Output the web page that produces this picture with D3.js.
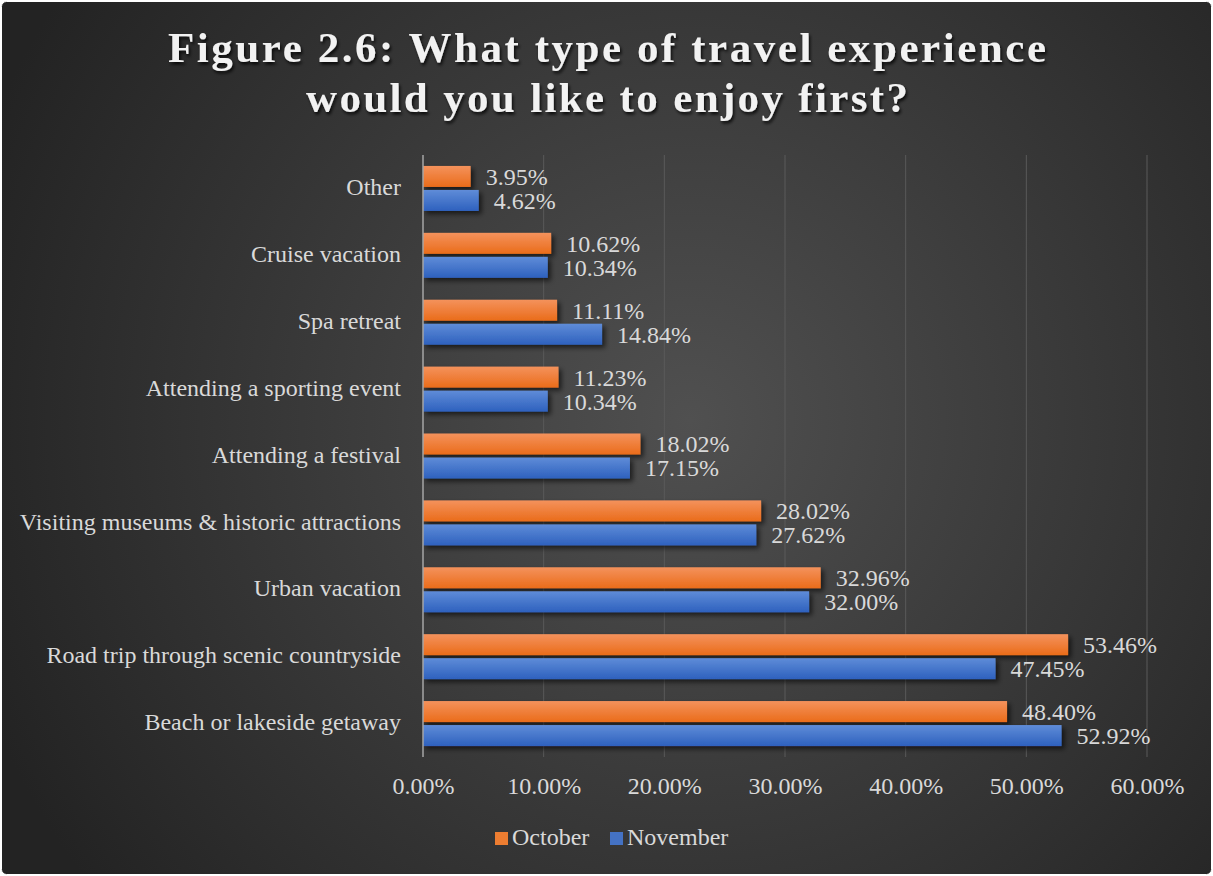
<!DOCTYPE html>
<html><head><meta charset="utf-8">
<script src="https://cdn.jsdelivr.net/npm/d3@7"></script>
<style>html,body{margin:0;padding:0;background:#fff;}svg{display:block;}</style>
</head><body>
<script>
const categories = ["Other","Cruise vacation","Spa retreat ","Attending a sporting event","Attending a festival","Visiting museums & historic attractions","Urban vacation","Road trip through scenic countryside","Beach or lakeside getaway"];
const october = [3.95,10.62,11.11,11.23,18.02,28.02,32.96,53.46,48.40];
const november = [4.62,10.34,14.84,10.34,17.15,27.62,32.00,47.45,52.92];
const seriesNames = ["October","November"];
const tickValues = [0,10,20,30,40,50,60];
const titleLines = ["Figure 2.6: What type of travel experience","would you like to enjoy first?"];

const W=1213,H=876;
const svg=d3.select("body").append("svg").attr("width",W).attr("height",H);
const defs=svg.append("defs");
const bg=defs.append("radialGradient").attr("id","bg").attr("gradientUnits","userSpaceOnUse")
  .attr("cx",690).attr("cy",420).attr("r",760);
bg.append("stop").attr("offset","0").attr("stop-color","#505050");
bg.append("stop").attr("offset","1").attr("stop-color","#232323");
const og=defs.append("linearGradient").attr("id","og").attr("x1",0).attr("y1",0).attr("x2",0).attr("y2",1);
og.append("stop").attr("offset","0").attr("stop-color","#f4925c");
og.append("stop").attr("offset","1").attr("stop-color","#ea6c1a");
const blg=defs.append("linearGradient").attr("id","blg").attr("x1",0).attr("y1",0).attr("x2",0).attr("y2",1);
blg.append("stop").attr("offset","0").attr("stop-color","#5f8cd8");
blg.append("stop").attr("offset","1").attr("stop-color","#2e61be");
const sh=defs.append("filter").attr("id","sh").attr("x","-10%").attr("y","-50%").attr("width","130%").attr("height","250%");
sh.append("feDropShadow").attr("dx",3).attr("dy",3).attr("stdDeviation",2.5).attr("flood-color","#000").attr("flood-opacity",0.6);
const tsh=defs.append("filter").attr("id","tsh").attr("x","-5%").attr("y","-30%").attr("width","110%").attr("height","160%");
tsh.append("feDropShadow").attr("dx",1.5).attr("dy",2.5).attr("stdDeviation",1.8).attr("flood-color","#000").attr("flood-opacity",0.8);

svg.append("rect").attr("x",1.5).attr("y",1.5).attr("width",W-3).attr("height",H-3).attr("rx",5)
  .attr("fill","url(#bg)").attr("stroke","#ffffff").attr("stroke-width",1);

const titleW=[878,602];
const title=svg.append("g").attr("filter","url(#tsh)");
titleLines.forEach((l,i)=>title.append("text").attr("text-anchor","middle")
  .attr("font-family","'Liberation Serif','Times New Roman',serif")
  .attr("font-weight","bold").attr("font-size",43).attr("fill","#f2f2f2")
  .attr("x",607).attr("y",62+i*50).attr("textLength",titleW[i]).attr("lengthAdjust","spacing").text(l));

const x=d3.scaleLinear().domain([0,60]).range([423,1147]);
const y=d3.scaleBand().domain(categories).range([155,757]);
const font="'Liberation Serif','Times New Roman',serif";
const txt="#d9d9d9";
const fs=24;

// grid
svg.append("g").selectAll("line").data(tickValues.slice(1)).join("line")
  .attr("x1",d=>x(d)).attr("x2",d=>x(d)).attr("y1",155).attr("y2",757)
  .attr("stroke","#5a5a5a").attr("stroke-width",1);

// x axis tick labels
const xAxis=d3.axisBottom(x).tickValues(tickValues).tickFormat(d=>d.toFixed(2)+"%").tickSize(0).tickPadding(0);
const gx=svg.append("g").attr("transform","translate(0,794)").call(xAxis);
gx.select(".domain").remove();
gx.selectAll("text").attr("font-family",font).attr("font-size",fs).attr("fill",txt).attr("dy","0");

// y axis labels
const yAxis=d3.axisLeft(y).tickSize(0).tickPadding(0);
const gy=svg.append("g").attr("transform","translate(401,0)").call(yAxis);
gy.select(".domain").remove();
gy.selectAll("text").attr("font-family",font).attr("font-size",fs).attr("fill",txt).attr("dy","0.32em").attr("y",-1);

const bh=21, gap=3;
const data=categories.map((c,i)=>({c,vals:[october[i],november[i]]}));
const fills=["url(#og)","url(#blg)"];
const offs=[15,15];
data.forEach(d=>{
  const cy=y(d.c)+y.bandwidth()/2;
  d.vals.forEach((v,k)=>{
    const top = k===0 ? cy-bh-gap/2 : cy+gap/2;
    svg.append("rect").attr("x",x(0)).attr("y",top).attr("width",x(v)-x(0)).attr("height",bh)
      .attr("fill",fills[k]).attr("filter","url(#sh)");
    svg.append("text").attr("x",x(v)+offs[k]).attr("y",top+bh/2).attr("dy","0.35em")
      .attr("font-family",font).attr("font-size",fs).attr("fill",txt).text(v.toFixed(2)+"%");
  });
});

// zero axis line
svg.append("line").attr("x1",x(0)).attr("x2",x(0)).attr("y1",155).attr("y2",757).attr("stroke","#a6a6a6").attr("stroke-width",1.5);

// legend
const lg=svg.append("g");
const legX=[495,610];
seriesNames.forEach((n,k)=>{
  lg.append("rect").attr("x",legX[k]).attr("y",832).attr("width",13).attr("height",13).attr("fill",k===0?"#ed7d31":"#4472c4");
  lg.append("text").attr("x",legX[k]+17).attr("y",845).attr("font-family",font).attr("font-size",fs).attr("fill",txt).text(n);
});
</script>
</body></html>
